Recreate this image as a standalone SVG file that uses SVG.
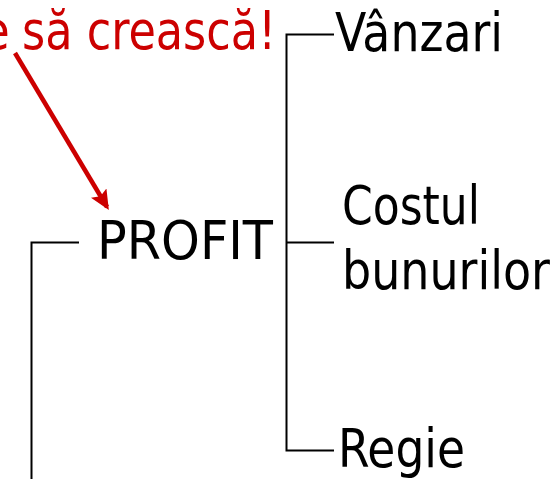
<svg xmlns="http://www.w3.org/2000/svg" width="554" height="479" viewBox="0 0 554 479">
<style>
text{font-family:"DejaVu Sans Condensed","DejaVu Sans",sans-serif;font-size:54px;font-stretch:condensed;fill:#000}
.red{fill:#cc0000}
.ln{stroke:#000;stroke-width:2;fill:none}
</style>
<defs>
<marker id="ah" markerWidth="4.4" markerHeight="4" refX="3.6" refY="2" orient="auto" markerUnits="strokeWidth">
<path d="M0,0 L4.4,2 L0,4 L0.8,2 Z" fill="#cc0000"/>
</marker>
</defs>
<rect width="554" height="479" fill="#fff"/>
<g id="connectors">
<path class="ln" d="M334,34.5 H286.5 V450.5 H334"/>
<path class="ln" d="M286.5,242.5 H334"/>
<path class="ln" d="M79,242.5 H31.5 V479"/>
<path d="M15,53 L107,207" stroke="#cc0000" stroke-width="4.5" fill="none" marker-end="url(#ah)"/>
</g>
<g id="note"><text class="red" y="49"><tspan x="-20">e</tspan><tspan x="22" textLength="254" lengthAdjust="spacingAndGlyphs">să crească!</tspan></text></g>
<g id="profit"><text x="97" y="259" textLength="176" lengthAdjust="spacingAndGlyphs">PROFIT</text></g>
<g id="vanzari"><text x="335" y="51" textLength="168" lengthAdjust="spacingAndGlyphs">Vânzari</text></g>
<g id="costul"><text x="342" y="224" textLength="138" lengthAdjust="spacingAndGlyphs">Costul</text><text x="342" y="289" textLength="208" lengthAdjust="spacingAndGlyphs">bunurilor</text></g>
<g id="regie"><text x="338" y="467" textLength="127" lengthAdjust="spacingAndGlyphs">Regie</text></g>
</svg>
